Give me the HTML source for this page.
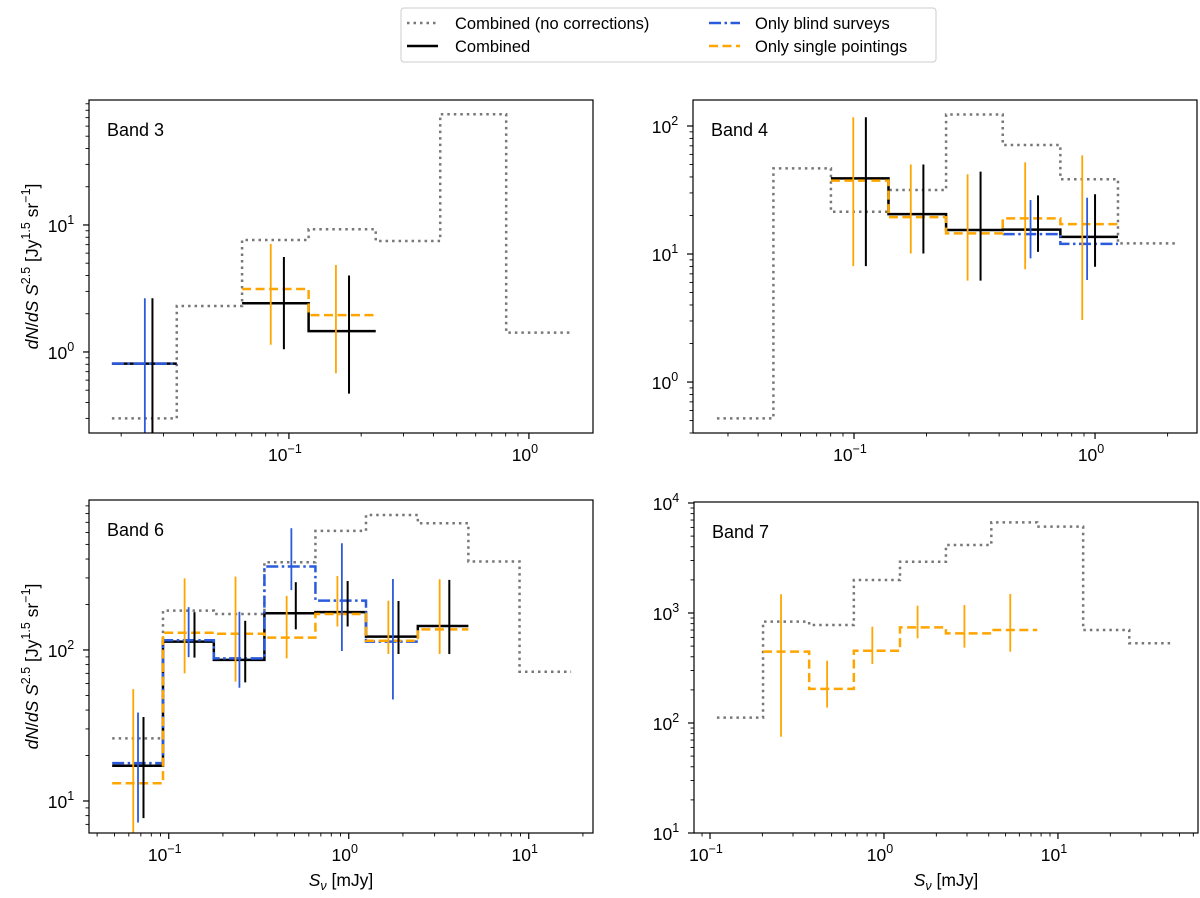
<!DOCTYPE html>
<html><head><meta charset="utf-8"><style>
html,body{margin:0;padding:0;background:#fff;}
svg{display:block;font-family:"Liberation Sans","DejaVu Sans",sans-serif;}
</style></head><body>
<svg id="fig" width="1200" height="898" viewBox="0 0 1200 898" xmlns="http://www.w3.org/2000/svg">
<g id="legend">
<rect x="401" y="8" width="535" height="54" rx="3" fill="#fff" stroke="#ccc" stroke-width="1"/>
<g>
<line x1="407" y1="23" x2="438" y2="23" stroke="#777" stroke-width="2.5" stroke-dasharray="2.5 4"/>
<text x="455" y="29" font-size="16.5">Combined (no corrections)</text></g>
<g>
<line x1="407" y1="46" x2="438" y2="46" stroke="#000" stroke-width="2.5"/>
<text x="455" y="52" font-size="16.5">Combined</text></g>
<g>
<line x1="709" y1="23" x2="740" y2="23" stroke="#2b5bdc" stroke-width="2.5" stroke-dasharray="12 3.5 2.5 3.5"/>
<text x="755" y="29" font-size="16.5">Only blind surveys</text></g>
<g>
<line x1="709" y1="46" x2="740" y2="46" stroke="#ffa500" stroke-width="2.5" stroke-dasharray="9 4.5"/>
<text x="755" y="52" font-size="16.5">Only single pointings</text></g>
</g>
</svg>
<script>
// ---- Band 3 data ----
const b3GrayEdges=[0.0183,0.0341,0.0638,0.1208,0.230,0.427,0.804,1.503];
const b3GrayVals=[0.30,2.30,7.62,9.25,7.48,74.5,1.42];
const b3BlackEdges=[0.0183,0.0341,0.0638,0.1208,0.230];
const b3BlackVals=[0.81,null,2.42,1.46];
const b3BlueEdges=[0.0183,0.0341];
const b3BlueVals=[0.81];
const b3OrangeEdges=[0.0638,0.1208,0.230];
const b3OrangeVals=[3.13,1.95];
const b3BlackErrX=[0.027,0.0953,0.178];
const b3BlackErrLo=[0.1,1.05,0.47];
const b3BlackErrHi=[2.65,5.6,4.0];
const b3BlueErrX=[0.0251];
const b3BlueErrLo=[0.1];
const b3BlueErrHi=[2.65];
const b3OrangeErrX=[0.084,0.157];
const b3OrangeErrLo=[1.14,0.68];
const b3OrangeErrHi=[7.1,4.84];
// ---- Band 4 data ----
const b4GrayEdges=[0.0270,0.0463,0.0802,0.139,0.241,0.414,0.718,1.245,2.158];
const b4GrayVals=[0.52,46.7,21.4,31.6,123,71,38.4,12.1];
const b4BlackEdges=[0.0802,0.139,0.241,0.414,0.718,1.245];
const b4BlackVals=[39,20.5,15.4,15.5,13.6];
const b4BlueEdges=[0.414,0.718,1.245];
const b4BlueVals=[14.3,12];
const b4OrangeEdges=[0.0802,0.139,0.241,0.414,0.718,1.245];
const b4OrangeVals=[37.4,19.4,14.5,19,17.1];
const b4BlackErrX=[0.112,0.194,0.335,0.58,1.0];
const b4BlackErrLo=[8.05,10.1,6.2,10.4,7.96];
const b4BlackErrHi=[117,50,44,28.7,29.3];
const b4BlueErrX=[0.54,0.927];
const b4BlueErrLo=[9.25,6.26];
const b4BlueErrHi=[26.4,27.5];
const b4OrangeErrX=[0.0993,0.172,0.296,0.513,0.885];
const b4OrangeErrLo=[8.05,10.1,6.2,7.6,3.05];
const b4OrangeErrHi=[117,50,42,52,59];
// ---- Band 6 data ----
const b6GrayEdges=[0.0485,0.0929,0.178,0.340,0.653,1.247,2.42,4.62,8.89,17.2];
const b6GrayVals=[26,182,173,381,614,783,690,385,71.8];
const b6BlackEdges=[0.0485,0.0929,0.178,0.340,0.653,1.247,2.42,4.62];
const b6BlackVals=[17.1,113.5,85.9,175,178,122.5,144];
const b6BlueEdges=[0.0485,0.0929,0.178,0.340,0.653,1.247,2.42];
const b6BlueVals=[17.8,116,88,357,212,113.5];
const b6OrangeEdges=[0.0485,0.0929,0.178,0.340,0.653,1.247,2.42,4.62];
const b6OrangeVals=[13.1,130,128,120.7,173,115,137];
const b6BlackErrX=[0.0724,0.139,0.266,0.508,0.986,1.89,3.62];
const b6BlackErrLo=[7.7,89,61,137,143,94,94];
const b6BlackErrHi=[36,178,156,281,286,211,291];
const b6BlueErrX=[0.0675,0.129,0.247,0.48,0.916,1.76];
const b6BlueErrLo=[7.2,89.6,56.2,249,98.4,47];
const b6BlueErrHi=[38.5,192,179,640,509,295];
const b6OrangeErrX=[0.0635,0.1225,0.235,0.452,0.865,1.66,3.2];
const b6OrangeErrLo=[5.5,70,61.7,88,143,94,94];
const b6OrangeErrHi=[55,298,306,228,309,212,294];
// ---- Band 7 data ----
const b7GrayEdges=[0.1096,0.2018,0.3715,0.671,1.236,2.27,4.14,7.60,13.96,25.7,44.9];
const b7GrayVals=[112,834,778,1995,2925,4150,6670,6100,700,531];
const b7OrangeEdges=[0.2018,0.3715,0.671,1.236,2.27,4.14,7.60];
const b7OrangeVals=[445,204,454,741,653,700];
const b7OrangeErrX=[0.256,0.471,0.857,1.56,2.9,5.32];
const b7OrangeErrLo=[75,138,344,589,484,445];
const b7OrangeErrHi=[1480,368,750,1165,1180,1490];
// ---- tick labels ----
const b3XTicks=[-1,0], b3YTicks=[0,1];
const b4XTicks=[-1,0], b4YTicks=[0,1,2];
const b6XTicks=[-1,0,1], b6YTicks=[1,2];
const b7XTicks=[-1,0,1], b7YTicks=[1,2,3,4];

const NS="http://www.w3.org/2000/svg";
const svg=document.getElementById('fig');
function mk(tag,attrs,parent){const e=document.createElementNS(NS,tag);for(const k in attrs)e.setAttribute(k,attrs[k]);(parent||svg).appendChild(e);return e;}

const panels=[
 {id:'band-3',label:'Band 3',x0:89,x1:593,y0:100,y1:433,lx:[-1.833,0.267],ly:[-0.638,1.984],
  gray:[b3GrayEdges,b3GrayVals],black:[b3BlackEdges,b3BlackVals],blue:[b3BlueEdges,b3BlueVals],orange:[b3OrangeEdges,b3OrangeVals],
  eb:[[b3BlackErrX,b3BlackErrLo,b3BlackErrHi,'#000',2],[b3BlueErrX,b3BlueErrLo,b3BlueErrHi,'#2b5bdc',1.8],[b3OrangeErrX,b3OrangeErrLo,b3OrangeErrHi,'#ffa500',1.8]],
  xt:b3XTicks,yt:b3YTicks,ylab:true,xlab:false},
 {id:'band-4',label:'Band 4',x0:693,x1:1197,y0:100,y1:433,lx:[-1.668,0.423],ly:[-0.398,2.203],
  gray:[b4GrayEdges,b4GrayVals],black:[b4BlackEdges,b4BlackVals],blue:[b4BlueEdges,b4BlueVals],orange:[b4OrangeEdges,b4OrangeVals],
  eb:[[b4BlackErrX,b4BlackErrLo,b4BlackErrHi,'#000',2],[b4BlueErrX,b4BlueErrLo,b4BlueErrHi,'#2b5bdc',1.8],[b4OrangeErrX,b4OrangeErrLo,b4OrangeErrHi,'#ffa500',1.8]],
  xt:b4XTicks,yt:b4YTicks,ylab:false,xlab:false},
 {id:'band-6',label:'Band 6',x0:89,x1:593,y0:500,y1:833,lx:[-1.443,1.357],ly:[0.788,2.993],
  gray:[b6GrayEdges,b6GrayVals],black:[b6BlackEdges,b6BlackVals],blue:[b6BlueEdges,b6BlueVals],orange:[b6OrangeEdges,b6OrangeVals],
  eb:[[b6BlackErrX,b6BlackErrLo,b6BlackErrHi,'#000',2],[b6BlueErrX,b6BlueErrLo,b6BlueErrHi,'#2b5bdc',1.8],[b6OrangeErrX,b6OrangeErrLo,b6OrangeErrHi,'#ffa500',1.8]],
  xt:b6XTicks,yt:b6YTicks,ylab:true,xlab:true},
 {id:'band-7',label:'Band 7',x0:694,x1:1198,y0:502,y1:833,lx:[-1.092,1.805],ly:[1.0,4.009],
  gray:[b7GrayEdges,b7GrayVals],black:null,blue:null,orange:[b7OrangeEdges,b7OrangeVals],
  eb:[[b7OrangeErrX,b7OrangeErrLo,b7OrangeErrHi,'#ffa500',1.8]],
  xt:b7XTicks,yt:b7YTicks,ylab:false,xlab:true}
];

panels.forEach((p,pi)=>{
  const g=mk('g',{});
  
  
  const sx=v=>p.x0+(Math.log10(v)-p.lx[0])/(p.lx[1]-p.lx[0])*(p.x1-p.x0);
  const sy=v=>p.y1-(Math.log10(v)-p.ly[0])/(p.ly[1]-p.ly[0])*(p.y1-p.y0);
  const cid='clip'+pi;
  const cp=mk('clipPath',{id:cid},g);
  mk('rect',{x:p.x0,y:p.y0,width:p.x1-p.x0,height:p.y1-p.y0},cp);
  const plot=mk('g',{'clip-path':'url(#'+cid+')'},g);
  function step(ser,color,dash,w,name){
    if(!ser)return;
    const [E,V]=ser;let d='';let open=false;
    for(let i=0;i<V.length;i++){
      if(V[i]==null){open=false;continue;}
      const y=sy(V[i]);
      if(!open){d+='M'+sx(E[i])+','+y;open=true;}else{d+='V'+y;}
      d+='H'+sx(E[i+1]);
    }
    const path=mk('path',{d:d,fill:'none',stroke:color,'stroke-width':w,'stroke-dasharray':dash},plot);
    
    
  }
  step(p.gray,'#777','2.5 4',2.5,'no-corrections');
  step(p.black,'#000','none',2.5,'combined');
  step(p.blue,'#2b5bdc','12 3.5 2.5 3.5',2.5,'blind');
  step(p.orange,'#ffa500','9 4.5',2.5,'single');
  p.eb.forEach(([X,L,H,c,w])=>{
    for(let i=0;i<X.length;i++){
      const ln=mk('line',{x1:sx(X[i]),x2:sx(X[i]),y1:sy(L[i]),y2:sy(H[i]),stroke:c,'stroke-width':w},plot);
      
      
    }
  });
  const fr=mk('rect',{x:p.x0,y:p.y0,width:p.x1-p.x0,height:p.y1-p.y0,fill:'none',stroke:'#000','stroke-width':1.2},g);
  
  
  for(let d=Math.floor(p.lx[0]);d<=Math.ceil(p.lx[1]);d++){
    for(let m=1;m<10;m++){
      const lv=d+Math.log10(m);
      if(lv<p.lx[0]||lv>p.lx[1])continue;
      const x=sx(Math.pow(10,lv));
      mk('line',{x1:x,x2:x,y1:p.y1,y2:p.y1+(m==1?6:3.5),stroke:'#000','stroke-width':m==1?1.2:0.9},g);
    }
  }
  p.xt.forEach(d=>{
    const t=mk('text',{x:sx(Math.pow(10,d))-4,y:p.y1+28,'font-size':17.5,'text-anchor':'middle'},g);
    
    
    t.innerHTML='10<tspan dy="-8" font-size="12.5">'+(d<0?'\u2212'+(-d):d)+'</tspan>';
  });
  for(let d=Math.floor(p.ly[0]);d<=Math.ceil(p.ly[1]);d++){
    for(let m=1;m<10;m++){
      const lv=d+Math.log10(m);
      if(lv<p.ly[0]||lv>p.ly[1])continue;
      const y=sy(Math.pow(10,lv));
      mk('line',{x1:p.x0,x2:p.x0-(m==1?6:3.5),y1:y,y2:y,stroke:'#000','stroke-width':m==1?1.2:0.9},g);
    }
  }
  p.yt.forEach(d=>{
    const t=mk('text',{x:p.x0-28,y:sy(Math.pow(10,d))+7,'font-size':17.5,'text-anchor':'middle'},g);
    
    
    t.innerHTML='10<tspan dy="-8" font-size="12.5">'+d+'</tspan>';
  });
  const bl=mk('text',{x:p.x0+18,y:p.y0+36,'font-size':18},g);
  
  
  bl.textContent=p.label;
  if(p.ylab){
    const cy=(p.y0+p.y1)/2;
    const t=mk('text',{x:0,y:0,'font-size':17.5,'text-anchor':'middle',transform:'translate(38,'+cy+') rotate(-90)'},g);
    
    
    t.innerHTML='<tspan font-style="italic">dN</tspan>/<tspan font-style="italic">dS S</tspan><tspan dy="-8" font-size="12.5">2.5</tspan><tspan dy="8"> [Jy</tspan><tspan dy="-8" font-size="12.5">1.5</tspan><tspan dy="8"> sr</tspan><tspan dy="-8" font-size="12.5">\u22121</tspan><tspan dy="8">]</tspan>';
  }
  if(p.xlab){
    const t=mk('text',{x:(p.x0+p.x1)/2,y:p.y1+53,'font-size':17.5,'text-anchor':'middle'},g);
    
    
    t.innerHTML='<tspan font-style="italic">S</tspan><tspan font-style="italic" dy="4" font-size="12.5">\u03bd</tspan><tspan dy="-4"> [mJy]</tspan>';
  }
});
</script>
</body></html>
